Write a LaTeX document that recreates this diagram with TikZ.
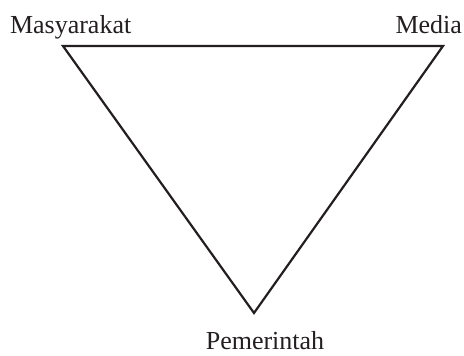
\documentclass[tikz,border=0pt]{standalone}
\usepackage{fontspec}
\setmainfont{Liberation Serif}
\definecolor{ink}{HTML}{231F20}
\begin{document}
\begin{tikzpicture}[x=1pt,y=-1pt,
  lbl/.style={inner sep=0pt,outer sep=0pt,font=\fontsize{26}{30}\selectfont,text=ink},
  edge/.style={draw=ink,line width=2.2pt,line join=miter}]
\useasboundingbox (0,0) rectangle (464,356);
\coordinate (tl) at (63,46);
\coordinate (tr) at (443,46);
\coordinate (b) at (254,313);
\draw[edge] (tl) -- (tr) -- (b) -- cycle;
\node[lbl,anchor=base west] (m) at (10,33) {Masyarakat};
\node[lbl,anchor=base east] (med) at (462,33) {Media};
\node[lbl,anchor=base] (p) at (265,349) {Pemerintah};
\end{tikzpicture}
\end{document}
